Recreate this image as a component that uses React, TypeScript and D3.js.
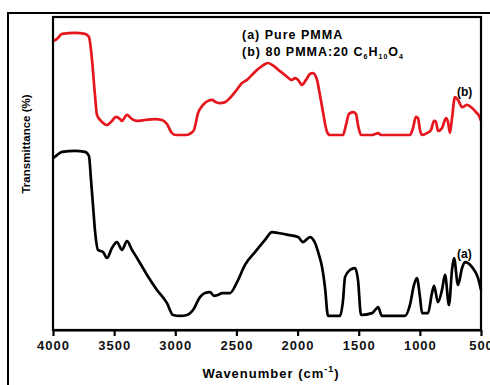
import React, { useRef, useEffect } from 'react';
import * as d3 from 'd3';

// wavenumber (cm-1) and transmittance (arb. %)
const waveB = [4000, 3967, 3926, 3820, 3738, 3706, 3681, 3657, 3640, 3607, 3558, 3518, 3485, 3452, 3436, 3395, 3354, 3313, 3248, 3166, 3109, 3068, 3027, 2994, 2912, 2871, 2847, 2814, 2773, 2732, 2700, 2667, 2634, 2593, 2561, 2512, 2454, 2414, 2373, 2332, 2291, 2242, 2193, 2144, 2095, 2046, 2021, 1996, 1964, 1931, 1898, 1874, 1841, 1817, 1792, 1759, 1735, 1629, 1604, 1580, 1547, 1522, 1506, 1481, 1391, 1367, 1342, 1318, 1081, 1056, 1032, 1015, 999, 982, 942, 909, 884, 868, 852, 819, 786, 770, 754, 737, 713, 688, 655, 614, 573, 541, 516, 500];
const transB = [92.3, 93.0, 94.6, 94.9, 94.6, 93.6, 86.3, 75.1, 68.7, 66.8, 65.5, 66.8, 68.1, 67.4, 66.8, 68.7, 67.4, 66.8, 67.1, 67.4, 67.1, 65.8, 62.9, 62.3, 62.3, 62.9, 63.9, 69.3, 71.9, 73.2, 73.5, 72.8, 72.5, 72.8, 73.8, 76.0, 78.9, 79.9, 81.5, 83.1, 84.3, 85.3, 84.3, 82.7, 81.2, 79.9, 80.5, 79.9, 78.3, 79.9, 81.8, 82.1, 79.9, 75.1, 69.6, 63.3, 62.3, 62.3, 65.5, 69.0, 69.6, 69.0, 65.5, 62.3, 62.3, 62.6, 62.9, 62.3, 62.3, 64.5, 68.1, 67.7, 63.9, 62.3, 62.9, 63.9, 66.8, 66.5, 63.6, 64.5, 67.7, 66.5, 63.0, 67.7, 74.4, 73.5, 71.2, 71.9, 70.9, 69.6, 68.4, 66.8];

const waveA = [4000, 3967, 3926, 3820, 3738, 3706, 3689, 3673, 3657, 3632, 3591, 3558, 3518, 3477, 3436, 3395, 3354, 3313, 3231, 3150, 3068, 3019, 2961, 2904, 2855, 2798, 2757, 2716, 2683, 2651, 2618, 2553, 2495, 2430, 2348, 2266, 2209, 2160, 2078, 1996, 1956, 1898, 1857, 1825, 1800, 1776, 1751, 1653, 1628, 1612, 1571, 1530, 1506, 1481, 1391, 1359, 1342, 1310, 1121, 1081, 1048, 1024, 999, 982, 933, 901, 884, 852, 819, 794, 762, 737, 721, 688, 655, 631, 573, 524, 500];
const transA = [54.9, 55.9, 56.9, 57.2, 56.9, 55.6, 47.9, 39.9, 31.9, 25.6, 24.9, 23.0, 26.2, 28.1, 25.6, 28.4, 25.6, 23.0, 17.6, 12.8, 8.6, 4.8, 4.5, 4.8, 6.4, 10.5, 11.8, 12.1, 10.9, 11.2, 11.8, 11.8, 15.3, 20.8, 24.9, 28.8, 31.3, 31.0, 30.4, 29.7, 28.1, 29.7, 27.8, 24.0, 20.1, 13.7, 4.5, 4.5, 9.6, 16.9, 19.2, 19.8, 16.0, 4.8, 5.4, 6.7, 7.3, 4.5, 4.5, 8.0, 14.4, 16.6, 10.5, 5.4, 5.4, 11.8, 14.1, 8.9, 12.8, 17.6, 8.0, 19.2, 23.0, 14.4, 19.8, 21.7, 20.1, 16.6, 12.8];

const xTicks = [4000, 3500, 3000, 2500, 2000, 1500, 1000, 500];

const App = () => {
  const svgRef = useRef<SVGSVGElement>(null);

  useEffect(() => {
    const svg = d3.select(svgRef.current);
    svg.selectAll('*').remove();

    const left = 53, right = 481, top = 17, bottom = 330;
    const font = 'Arial, "Liberation Sans", sans-serif';

    const x = d3.scaleLinear().domain([4000, 500]).range([left, right]);
    const y = d3.scaleLinear().domain([0, 100]).range([bottom, top]);

    // outer frame
    svg.append('rect')
      .attr('x', 8).attr('y', 13).attr('width', 520).attr('height', 420)
      .attr('fill', 'none').attr('stroke', '#000').attr('stroke-width', 2);

    const line = d3.line<[number, number]>()
      .x(d => x(d[0]))
      .y(d => y(d[1]))
      .curve(d3.curveMonotoneX);

    svg.append('path')
      .datum(waveB.map((w, i) => [w, transB[i]] as [number, number]))
      .attr('d', line)
      .attr('fill', 'none').attr('stroke', '#e5161d').attr('stroke-width', 2.7)
      .attr('stroke-linejoin', 'round');

    svg.append('path')
      .datum(waveA.map((w, i) => [w, transA[i]] as [number, number]))
      .attr('d', line)
      .attr('fill', 'none').attr('stroke', '#000').attr('stroke-width', 2.7)
      .attr('stroke-linejoin', 'round');

    // plot box
    svg.append('rect')
      .attr('x', left).attr('y', top).attr('width', right - left).attr('height', bottom - top)
      .attr('fill', 'none').attr('stroke', '#000').attr('stroke-width', 2.2);

    const xAxis = svg.append('g')
      .attr('transform', `translate(0, ${bottom})`)
      .call(d3.axisBottom(x).tickValues(xTicks).tickSize(6).tickSizeOuter(0).tickPadding(5).tickFormat(d3.format('d')));
    xAxis.select('.domain').attr('stroke-width', 2.2);
    xAxis.selectAll('line').attr('stroke-width', 2.2);
    xAxis.selectAll('text')
      .attr('font-family', font).attr('font-size', 13).attr('font-weight', 'bold')
      .attr('letter-spacing', 1).attr('fill', '#111');

    // x label
    const xl = svg.append('text')
      .attr('x', 271).attr('y', 378)
      .attr('text-anchor', 'middle')
      .attr('font-family', font).attr('font-size', 13).attr('font-weight', 'bold')
      .attr('letter-spacing', 1);
    xl.append('tspan').text('Wavenumber (cm');
    xl.append('tspan').attr('font-size', 9).attr('dy', -6).text('-1');
    xl.append('tspan').attr('dy', 6).text(')');

    // y label
    svg.append('text')
      .attr('transform', 'translate(30, 144) rotate(-90)')
      .attr('text-anchor', 'middle')
      .attr('font-family', font).attr('font-size', 11.5).attr('font-weight', 'bold')
      .text('Transmittance (%)');

    // legend
    svg.append('text')
      .attr('x', 242).attr('y', 39)
      .attr('font-family', font).attr('font-size', 12.5).attr('font-weight', 'bold')
      .attr('letter-spacing', 1)
      .text('(a) Pure PMMA');
    const lb = svg.append('text')
      .attr('x', 242).attr('y', 56)
      .attr('font-family', font).attr('font-size', 12.5).attr('font-weight', 'bold')
      .attr('letter-spacing', 1);
    lb.append('tspan').text('(b) 80 PMMA:20 C');
    lb.append('tspan').attr('font-size', 7).attr('dy', 3).text('6');
    lb.append('tspan').attr('dy', -3).text('H');
    lb.append('tspan').attr('font-size', 7).attr('dy', 3).text('10');
    lb.append('tspan').attr('dy', -3).text('O');
    lb.append('tspan').attr('font-size', 7).attr('dy', 3).text('4');

    // curve tags
    svg.append('text')
      .attr('x', 457).attr('y', 96)
      .attr('font-family', font).attr('font-size', 12).attr('font-weight', 'bold')
      .text('(b)');
    svg.append('text')
      .attr('x', 457).attr('y', 258)
      .attr('font-family', font).attr('font-size', 12).attr('font-weight', 'bold')
      .text('(a)');
  }, []);

  return (
    <svg
      ref={svgRef}
      width={490}
      height={385}
      style={{ position: 'absolute', left: 0, top: 0, background: '#fff' }}
    />
  );
};

export default App;
